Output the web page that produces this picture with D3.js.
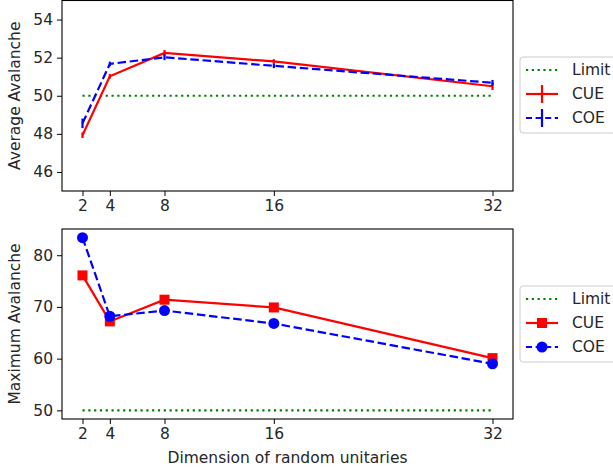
<!DOCTYPE html>
<html>
<head>
<meta charset="utf-8">
<script src="https://cdn.jsdelivr.net/npm/d3@7"></script>
<style>
  body { margin: 0; background: white; }
  text { font-family: "DejaVu Sans", sans-serif; fill: #262626; }
</style>
</head>
<body>
<div id="chart"></div>
<script>
// data
let dims = [2, 4, 8, 16, 32];
let limitValue = 50;

let avgCUE = [47.93, 51.02, 52.25, 51.8, 50.5];
let avgCUEErr = [0.15, 0.12, 0.15, 0.12, 0.2];
let avgCOE = [48.55, 51.67, 52.02, 51.57, 50.68];
let avgCOEErr = [0.25, 0.12, 0.15, 0.12, 0.15];

let maxCUE = [76.1, 67.2, 71.4, 69.9, 60.1];
let maxCOE = [83.4, 68.2, 69.3, 66.8, 59.0];

let avgTicks = [46, 48, 50, 52, 54];
let maxTicks = [50, 60, 70, 80];
let legendNames = ["Limit", "CUE", "COE"];

let W = 613, H = 471;
let fs = 15.5;
let left = 62, right = 513;

let svg = d3.select("#chart").append("svg")
  .attr("width", W)
  .attr("height", H)
  .style("display", "block");

let x = d3.scaleLinear()
  .domain([0.5, 33.5])
  .range([left, right]);

let yTop = d3.scaleLinear().domain([45, 55]).range([191, 0.5]);

let maxAll = d3.max(maxCOE.concat(maxCUE));
let span = maxAll - limitValue;
let yBot = d3.scaleLinear()
  .domain([limitValue - 0.05 * span, maxAll + 0.05 * span])
  .range([419, 229]);

let red = "#ff0000", blue = "#0000ff", green = "#008000";
let lw = 2.2;
let dashed = "8.5,3.7";
let dotted = "2.2,3.6";

function drawFrame(y, ticks, label) {
  let g = svg.append("g");
  let r = y.range();
  g.append("rect")
    .attr("x", left).attr("y", r[1])
    .attr("width", right - left).attr("height", r[0] - r[1])
    .attr("fill", "none").attr("stroke", "black").attr("stroke-width", 1.1);

  let xa = g.append("g")
    .attr("transform", `translate(0,${r[0]})`)
    .call(d3.axisBottom(x).tickValues(dims).tickSize(5).tickPadding(4));
  xa.select(".domain").remove();
  xa.selectAll("text").style("font-size", fs + "px").attr("fill", "#262626");

  let ya = g.append("g")
    .attr("transform", `translate(${left},0)`)
    .call(d3.axisLeft(y).tickValues(ticks).tickSize(5).tickPadding(4));
  ya.select(".domain").remove();
  ya.selectAll("text").style("font-size", fs + "px").attr("fill", "#262626");

  g.append("text")
    .attr("transform", `translate(15,${(r[0] + r[1]) / 2}) rotate(-90)`)
    .attr("text-anchor", "middle")
    .attr("dy", "0.35em")
    .style("font-size", fs + "px")
    .text(label);

  // limit line
  g.append("line")
    .attr("x1", x(dims[0])).attr("x2", x(dims[dims.length - 1]))
    .attr("y1", y(limitValue)).attr("y2", y(limitValue))
    .attr("stroke", green).attr("stroke-width", lw)
    .attr("stroke-dasharray", dotted);
  return g;
}

function drawLegend(cy, kind) {
  let g = svg.append("g");
  let bx = 520, bw = 120, bh = 76;
  g.append("rect")
    .attr("x", bx).attr("y", cy - bh / 2)
    .attr("width", bw).attr("height", bh)
    .attr("rx", 3)
    .attr("fill", "white").attr("fill-opacity", 0.8)
    .attr("stroke", "#cccccc").attr("stroke-width", 1);

  let rowY = [cy - 25, cy - 1, cy + 23];
  let cols = [green, red, blue];
  let dash = [dotted, null, "6,3.6"];
  legendNames.forEach((name, i) => {
    g.append("line")
      .attr("x1", 526).attr("x2", 558)
      .attr("y1", rowY[i]).attr("y2", rowY[i])
      .attr("stroke", cols[i]).attr("stroke-width", lw)
      .attr("stroke-dasharray", dash[i]);
    if (i > 0) {
      if (kind == "err") {
        g.append("line")
          .attr("x1", 542).attr("x2", 542)
          .attr("y1", rowY[i] - 9).attr("y2", rowY[i] + 9)
          .attr("stroke", cols[i]).attr("stroke-width", lw);
      } else if (i == 1) {
        g.append("rect")
          .attr("x", 542 - 5).attr("y", rowY[i] - 5)
          .attr("width", 10).attr("height", 10)
          .attr("fill", red);
      } else {
        g.append("circle")
          .attr("cx", 542).attr("cy", rowY[i]).attr("r", 5.5)
          .attr("fill", blue);
      }
    }
    g.append("text")
      .attr("x", 572).attr("y", rowY[i])
      .attr("dy", "0.35em")
      .style("font-size", fs + "px")
      .text(name);
  });
}

// ---- top panel ----
drawFrame(yTop, avgTicks, "Average Avalanche");

let lineTop = d3.line().x((d, i) => x(dims[i])).y(d => yTop(d));

svg.append("path")
  .attr("d", lineTop(avgCUE))
  .attr("fill", "none").attr("stroke", red).attr("stroke-width", lw);
svg.selectAll(".errCUE")
  .data(avgCUE)
  .enter().append("line")
  .attr("x1", (d, i) => x(dims[i])).attr("x2", (d, i) => x(dims[i]))
  .attr("y1", (d, i) => yTop(d - avgCUEErr[i]))
  .attr("y2", (d, i) => yTop(d + avgCUEErr[i]))
  .attr("stroke", red).attr("stroke-width", lw);

svg.append("path")
  .attr("d", lineTop(avgCOE))
  .attr("fill", "none").attr("stroke", blue).attr("stroke-width", lw)
  .attr("stroke-dasharray", dashed);
svg.selectAll(".errCOE")
  .data(avgCOE)
  .enter().append("line")
  .attr("x1", (d, i) => x(dims[i])).attr("x2", (d, i) => x(dims[i]))
  .attr("y1", (d, i) => yTop(d - avgCOEErr[i]))
  .attr("y2", (d, i) => yTop(d + avgCOEErr[i]))
  .attr("stroke", blue).attr("stroke-width", lw);

drawLegend(95, "err");

// ---- bottom panel ----
drawFrame(yBot, maxTicks, "Maximum Avalanche");

let lineBot = d3.line().x((d, i) => x(dims[i])).y(d => yBot(d));

svg.append("path")
  .attr("d", lineBot(maxCUE))
  .attr("fill", "none").attr("stroke", red).attr("stroke-width", lw);
svg.selectAll(".sqCUE")
  .data(maxCUE)
  .enter().append("rect")
  .attr("x", (d, i) => x(dims[i]) - 5)
  .attr("y", d => yBot(d) - 5)
  .attr("width", 10).attr("height", 10)
  .attr("fill", red);

svg.append("path")
  .attr("d", lineBot(maxCOE))
  .attr("fill", "none").attr("stroke", blue).attr("stroke-width", lw)
  .attr("stroke-dasharray", dashed);
svg.selectAll(".dotCOE")
  .data(maxCOE)
  .enter().append("circle")
  .attr("cx", (d, i) => x(dims[i]))
  .attr("cy", d => yBot(d))
  .attr("r", 5.5)
  .attr("fill", blue);

drawLegend(324, "marker");

svg.append("text")
  .attr("x", (left + right) / 2).attr("y", 458)
  .attr("text-anchor", "middle")
  .attr("dy", "0.35em")
  .style("font-size", fs + "px")
  .text("Dimension of random unitaries");
</script>
</body>
</html>
